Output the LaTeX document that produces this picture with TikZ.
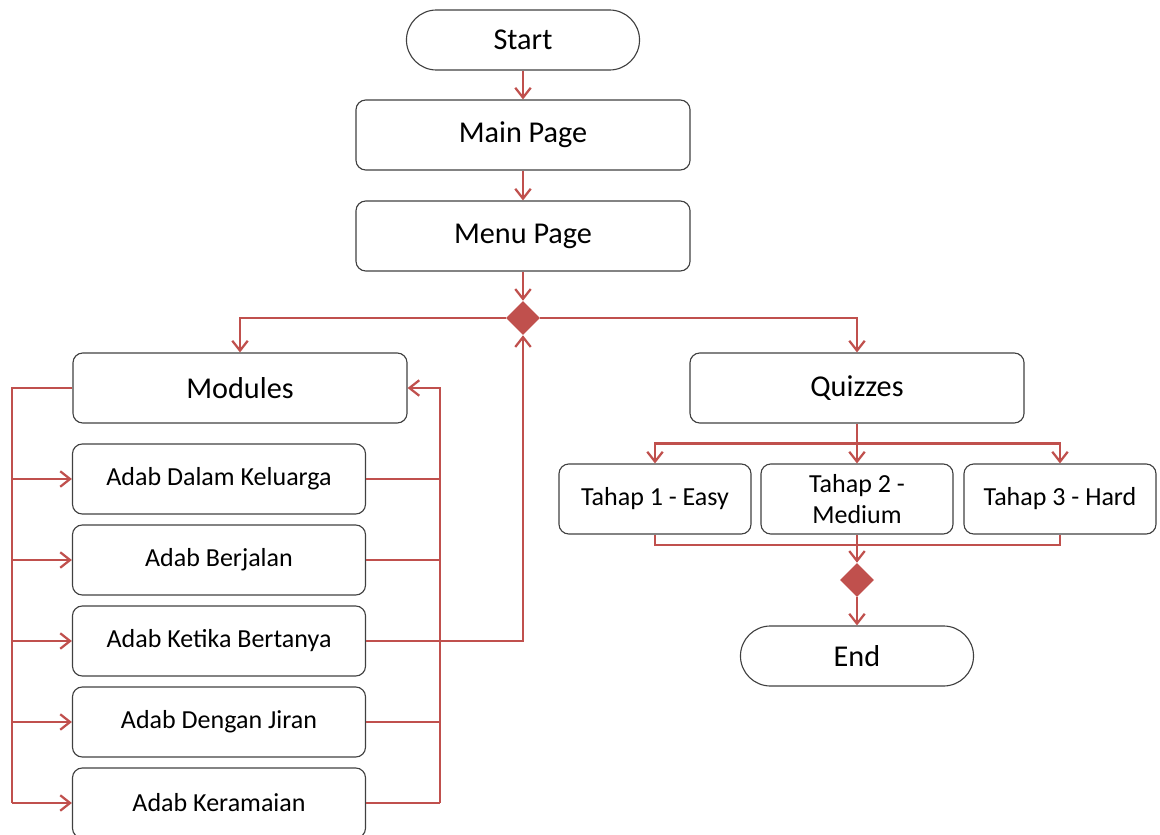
\documentclass[tikz,border=0pt]{standalone}
\usepackage{fontspec}
\setmainfont{Carlito}
\usetikzlibrary{shapes.geometric,arrows.meta}
\definecolor{flowred}{HTML}{C0504D}
\definecolor{edgegray}{HTML}{404040}

\begin{document}
\begin{tikzpicture}[x=0.025cm,y=-0.025cm,
    box/.style={draw=edgegray,line width=0.8pt,rounded corners=7pt,
        minimum width=8.35cm,minimum height=1.75cm,align=center,
        font=\fontsize{21.5}{24}\selectfont},
    subbox/.style={box,minimum width=7.325cm,font=\fontsize{18.5}{22}\selectfont},
    levelbox/.style={box,minimum width=4.8cm,font=\fontsize{18.5}{22}\selectfont},
    terminal/.style={box,minimum width=5.825cm,minimum height=1.5cm,rounded corners=0.75cm},
    decision/.style={diamond,fill=flowred,draw=none,inner sep=0pt,
        minimum width=0.85cm,minimum height=0.85cm},
    line/.style={draw=flowred,line width=1.8pt},
    link/.style={line,-{Straight Barb[length=7pt,width=11pt,line width=1.6pt]}}]
\useasboundingbox (0,0) rectangle (1160,835);

\node [terminal] (start) at (523,40) {Start};
\node [box] (main) at (523,135) {Main Page};
\node [box] (menu) at (523,236) {Menu Page};
\node [decision] (split) at (523,318) {};
\node [box] (modules) at (240,388) {Modules};
\node [box] (quizzes) at (857,388) {Quizzes};

\path
    (219,479) node [subbox] (adab1) {Adab Dalam Keluarga}
    (219,560) node [subbox] (adab2) {Adab Berjalan}
    (219,641) node [subbox] (adab3) {Adab Ketika Bertanya}
    (219,722) node [subbox] (adab4) {Adab Dengan Jiran}
    (219,803) node [subbox] (adab5) {Adab Keramaian};

\path
    (655,499) node [levelbox] (tahap1) {Tahap 1 - Easy}
    (857,499) node [levelbox] (tahap2) {Tahap 2 -\\Medium}
    (1060,499) node [levelbox] (tahap3) {Tahap 3 - Hard};
\node [decision] (merge) at (857,580) {};
\node [terminal] (end) at (857,656) {End};

\coordinate (lbus) at (12,0);
\coordinate (rbus) at (440,0);

\draw [link] (start) -- (main);
\draw [link] (main) -- (menu);
\draw [link] (menu) -- (split);
\draw [link] (split.west) -| (modules.north);
\draw [link] (split.east) -| (quizzes.north);

% modules: left fan-out, right return
\draw [line] (modules.west) -- (lbus |- modules.west) -- (lbus |- adab5.west);
\foreach \n in {1,...,5}
    \draw [link] (lbus |- adab\n.west) -- (adab\n.west);
\foreach \n in {1,2,4,5}
    \draw [line] (adab\n.east) -- (rbus |- adab\n.east);
\draw [link] (rbus |- adab5.east) -- (rbus |- modules.east) -- (modules.east);
\draw [link] (adab3.east) -| (split.south);

% quizzes
\draw [line] (quizzes.south) -- ++(0,20) coordinate (qfork);
\draw [link] (qfork) -| (tahap1.north);
\draw [link] (qfork) -| (tahap3.north);
\draw [link] (qfork) -- (tahap2.north);
\coordinate (qjoin) at (857,545);
\draw [line] (tahap1.south) |- (qjoin) -| (tahap3.south);
\draw [line] (tahap2.south) -- (qjoin);
\draw [link] (qjoin) -- (merge);
\draw [link] (merge) -- (end);
\end{tikzpicture}
\end{document}
